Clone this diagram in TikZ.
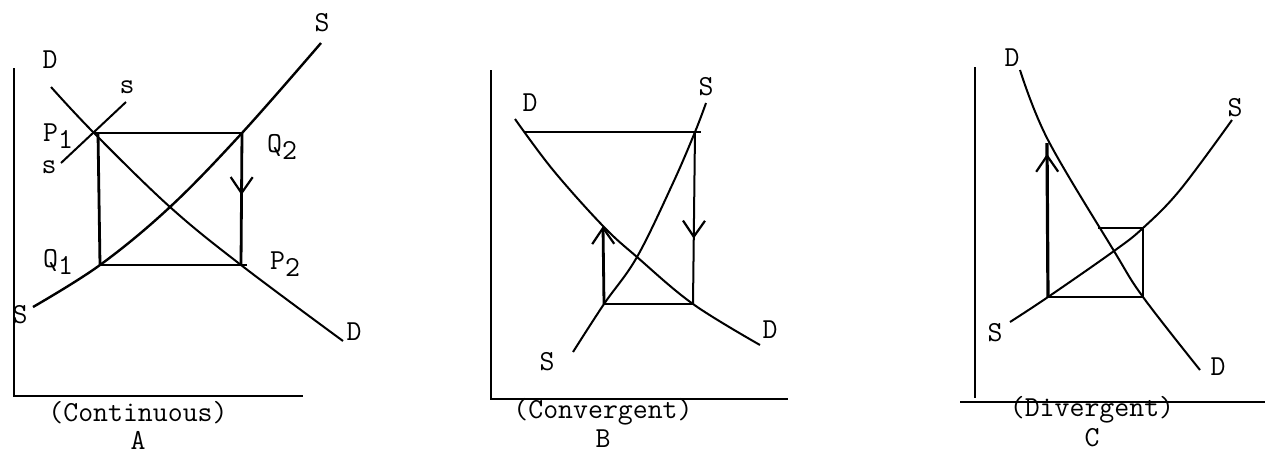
\documentclass[tikz,border=0pt]{standalone}
\usepackage{fontspec}
\usetikzlibrary{arrows.meta,positioning,decorations.markings}
\newcommand{\lowsub}[1]{\raisebox{-0.55ex}{#1}}

\begin{document}
\begin{tikzpicture}[
x=0.5pt, y=-0.5pt,
font=\ttfamily\fontsize{14.5}{16}\selectfont,
axis/.style={line width=1.3pt},
curve/.style={line width=1pt},
cobweb/.style={line width=1.4pt},
lbl/.style={inner sep=1pt},
barb/.style={-{Straight Barb[length=8pt,width=11pt,line width=1.1pt]}},
midarrow/.style={postaction={decorate}, decoration={markings, mark=at position #1 with {\arrow{Straight Barb[length=8pt,width=11pt,line width=1.1pt]}}}}
]
\useasboundingbox (0,0) rectangle (1265,457);

% A
\coordinate (aYtop) at (14,68);
\coordinate (aO) at (14,396);
\coordinate (aXend) at (303,396);
\coordinate (aP1) at (94,133);
\coordinate (aL) at (98,133);
\coordinate (aQ2) at (242,133);
\coordinate (aP2) at (241,265);
\coordinate (aQ1) at (100,265);
\coordinate (aX) at (170,207);
\coordinate (aDa) at (51,87);
\coordinate (aDb) at (343,341);
\coordinate (aSa) at (33,307);
\coordinate (aSb) at (321,43);
\coordinate (asa) at (61,163);
\coordinate (asb) at (126,102);
\draw[axis] (aYtop) -- (aO) -- (aXend);
\draw[curve] plot[smooth, tension=0.6] coordinates {(aDa) (aP1) (aX) (aP2) (aDb)};
\draw[curve, line width=1.2pt] plot[smooth, tension=0.6] coordinates {(aSa) (aQ1) (aX) (aQ2) (aSb)};
\draw[curve] (asa) -- (asb);
\draw[cobweb] (aQ1) -- (aL);
\draw[cobweb] (aP1) -- (aQ2);
\draw[cobweb, midarrow=0.47] (aQ2) -- (aP2);
\draw[cobweb] (aQ1) -- ([xshift=3pt]aP2);
\node[lbl] (aDtl) at (50,60) {D};
\node[lbl] (aDbl) at (354,332) {D};
\node[lbl] (aStl) at (322,23) {S};
\node[lbl] (aSbl) at (20,315) {S};
\node[lbl] (astl) at (127,87) {s};
\node[lbl] (asbl) at (49,167) {s};
\node[lbl] (aP1l) at (58,136) {P\lowsub{1}};
\node[lbl] (aQ2l) at (282,147) {Q\lowsub{2}};
\node[lbl] (aQ1l) at (58,262) {Q\lowsub{1}};
\node[lbl] (aP2l) at (285,264) {P\lowsub{2}};
\node[lbl] (aname) at (138,413) {(Continuous)};
\node[lbl, below=1pt of aname] (aletter) {A};

% B
\coordinate (bYtop) at (491,70);
\coordinate (bO) at (491,399);
\coordinate (bXend) at (788,399);
\coordinate (bDa) at (515,119);
\coordinate (bDq) at (524,132);
\coordinate (bUp) at (603,226);
\coordinate (bX) at (637,257);
\coordinate (bP) at (693,304);
\coordinate (bDb) at (760,345);
\coordinate (bSa) at (573,352);
\coordinate (bQ) at (604,304);
\coordinate (bSq) at (695,132);
\coordinate (bSb) at (706,103);
\coordinate (bTend) at (701,132);
\draw[axis] (bYtop) -- (bO) -- (bXend);
\draw[curve] plot[smooth, tension=0.6] coordinates {(bDa) (553,170) (bUp) (bX) (bP) (bDb)};
\draw[curve] plot[smooth, tension=0.6] coordinates {(bSa) (bQ) (bX) (673,183) (bSq) (bSb)};
\draw[curve] (bDq) -- (bTend);
\draw[curve, midarrow=0.62] (bSq) -- (bP);
\draw[cobweb] (bQ) -- (bP);
\draw[cobweb, barb] (bQ) -- (bUp);
\node[lbl] (bDtl) at (530,103) {D};
\node[lbl] (bDbl) at (770,330) {D};
\node[lbl] (bStl) at (706,87) {S};
\node[lbl] (bSbl) at (547,362) {S};
\node[lbl] (bname) at (603,412) {(Convergent)};
\node[lbl, below=0pt of bname] (bletter) {B};

% C
\coordinate (cYtop) at (975,67);
\coordinate (cYbot) at (975,398);
\coordinate (cXa) at (960,402);
\coordinate (cXend) at (1265,402);
\coordinate (cDa) at (1020,70);
\coordinate (cUp) at (1047,143);
\coordinate (cX) at (1114,251);
\coordinate (cP) at (1143,297);
\coordinate (cDb) at (1200,370);
\coordinate (cSa) at (1010,322);
\coordinate (cQ) at (1048,297);
\coordinate (cS2) at (1143,228);
\coordinate (cSb) at (1232,120);
\coordinate (cTend) at (1098,228);
\draw[axis] (cYtop) -- (cYbot);
\draw[axis] (cXa) -- (cXend);
\draw[curve] plot[smooth, tension=0.6] coordinates {(cDa) (1048,140) (cX) (cP) (cDb)};
\draw[curve] plot[smooth, tension=0.6] coordinates {(cSa) (cQ) (cX) (cS2) (1180,190) (cSb)};
\draw[cobweb, line width=1.6pt, midarrow=0.93] (cQ) -- (cUp);
\draw[cobweb] (cQ) -- (cP);
\draw[curve] (cP) -- (cS2) -- (cTend);
\node[lbl] (cDtl) at (1012,58) {D};
\node[lbl] (cDbl) at (1218,367) {D};
\node[lbl] (cStl) at (1235,108) {S};
\node[lbl] (cSbl) at (995,333) {S};
\node[lbl] (cname) at (1092,410) {(Divergent)};
\node[lbl, below=0pt of cname] (cletter) {C};
\end{tikzpicture}
\end{document}
